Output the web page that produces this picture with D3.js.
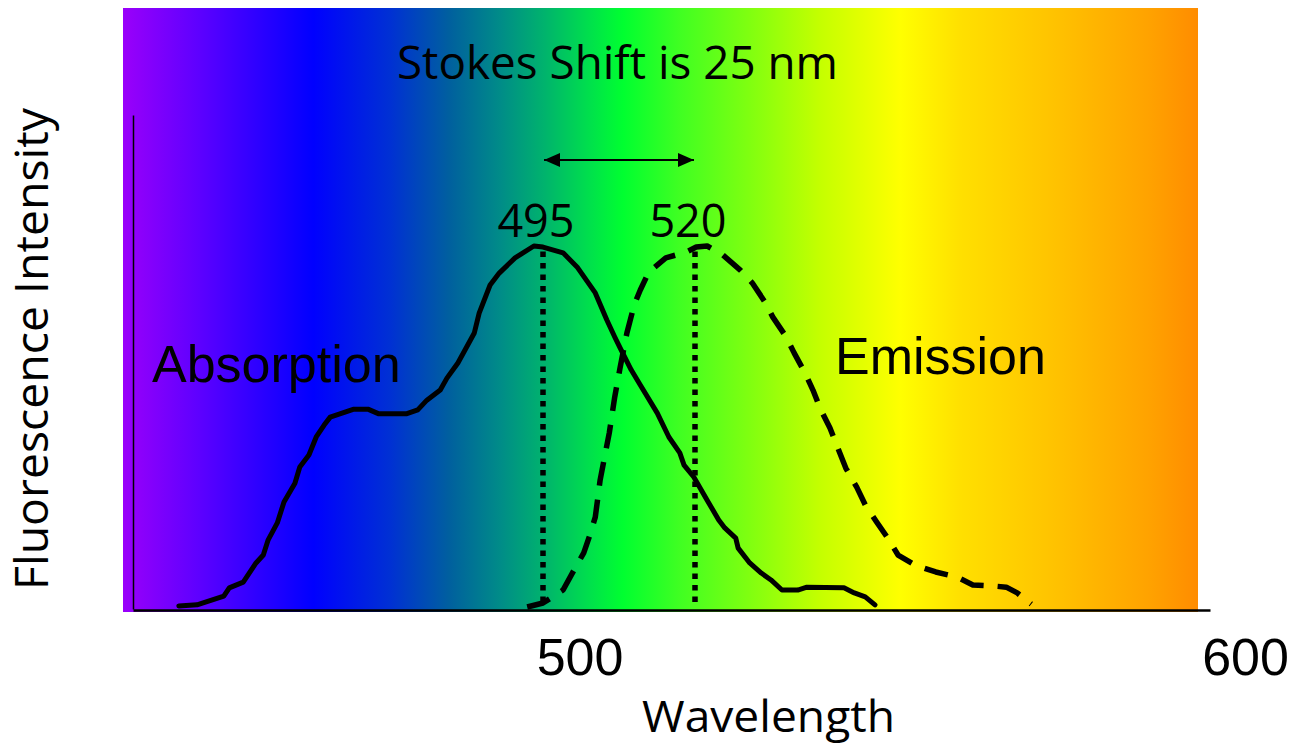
<!DOCTYPE html>
<html><head><meta charset="utf-8">
<script src="https://cdn.jsdelivr.net/npm/d3@7"></script>
<style>body{margin:0;background:#fff;} svg{display:block;}</style>
</head><body>
<svg id="chart" width="1293" height="746"></svg>
<script>
// ---- data ----
const absorptionWavelength = [435.1,438.1,442.5,443.4,445.7,447.8,449.0,449.8,451.3,452.4,454.2,455.0,456.5,457.7,459.0,460.0,463.9,466.2,468.0,472.5,474.4,475.9,478.1,479.2,481.0,483.7,484.5,486.3,487.8,490.4,493.5,495.0,498.3,500.6,503.6,505.5,506.8,507.7,509.5,511.0,513.8,515.7,517.5,518.2,519.8,522.0,523.9,524.9,526.7,527.1,529.0,530.9,532.5,534.3,536.9,538.4,544.5,546.2,548.0,549.6];
const absorptionIntensity = [0.003,0.006,0.030,0.053,0.069,0.122,0.144,0.186,0.233,0.291,0.343,0.388,0.421,0.471,0.504,0.526,0.548,0.548,0.535,0.535,0.546,0.573,0.601,0.634,0.676,0.759,0.814,0.892,0.925,0.967,1.000,0.997,0.981,0.942,0.870,0.795,0.748,0.717,0.657,0.615,0.537,0.471,0.427,0.393,0.360,0.296,0.241,0.219,0.191,0.163,0.122,0.094,0.075,0.047,0.047,0.055,0.053,0.039,0.028,0.006];
const emissionWavelength = [492.4,495.0,498.3,500.1,501.7,502.7,503.6,504.4,505.9,506.8,507.7,508.8,510.0,511.0,512.4,515.2,518.5,520.2,522.0,524.6,527.4,529.4,531.5,532.8,535.0,536.3,538.1,539.4,540.7,542.2,543.5,544.8,546.6,548.0,549.9,551.7,553.4,556.2,559.6,563.1,565.7,569.2,571.2,573.0,575.3];
const emissionIntensity = [0.000,0.011,0.047,0.102,0.150,0.199,0.249,0.352,0.482,0.582,0.665,0.759,0.837,0.878,0.928,0.967,0.983,0.997,1.000,0.975,0.934,0.898,0.845,0.803,0.748,0.704,0.648,0.601,0.546,0.496,0.440,0.385,0.332,0.283,0.235,0.191,0.144,0.116,0.097,0.083,0.061,0.058,0.055,0.039,0.008];
const peakWavelengths = [495, 520];
const peakLabels = ["495", "520"];
const axisTickValues = [500, 600];
const axisTickLabels = ["500", "600"];
const seriesLabels = ["Absorption", "Emission"];
const titleText = "Stokes Shift is 25 nm";
const xTitle = "Wavelength";
const yTitle = "Fluorescence Intensity";

// ---- layout ----
const svg = d3.select("#chart");
const bg = {left:123, right:1198, top:8, bottom:612};
const xS = d3.scaleLinear().domain([495, 520]).range([543, 695]);   // curves
const yS = d3.scaleLinear().domain([0, 1]).range([607, 246]);
const xTick = d3.scaleLinear().domain([500, 600]).range([579.5, 1245]); // axis labels
const xAxisScale = d3.scaleLinear().domain([xTick.invert(133), xTick.invert(1210)]).range([133, 1210]);
const yAxisScale = d3.scaleLinear().domain([0, 1]).range([609, 115]);

const calibri = "'Open Sans', 'Noto Sans', sans-serif";
const arial = "'Liberation Sans', Arial, sans-serif";

// ---- gradient background ----
const defs = svg.append("defs");
const grad = defs.append("linearGradient").attr("id","spec")
  .attr("gradientUnits","userSpaceOnUse")
  .attr("x1",bg.left).attr("x2",bg.right).attr("y1",0).attr("y2",0);
const stops = [
  [0,"#9a00fa"],[0.072,"#5c00ff"],[0.177,"#0000ff"],[0.248,"#0030d4"],
  [0.304,"#00609e"],[0.351,"#008c88"],[0.393,"#00b46c"],[0.434,"#00e04c"],
  [0.465,"#00ff30"],[0.518,"#40ff22"],[0.583,"#80ff10"],[0.648,"#c4ff00"],
  [0.723,"#ffff00"],[0.779,"#ffe000"],[0.862,"#ffc400"],[0.955,"#ffa200"],[1,"#ff8c00"]];
grad.selectAll("stop").data(stops).join("stop")
  .attr("offset",d=>d[0]).attr("stop-color",d=>d[1]);
svg.append("rect").attr("x",bg.left).attr("y",bg.top)
  .attr("width",bg.right-bg.left).attr("height",bg.bottom-bg.top)
  .attr("fill","url(#spec)");

// ---- axes ----
const xAxis = svg.append("g").attr("transform","translate(0,610)")
  .call(d3.axisBottom(xAxisScale).tickValues(axisTickValues)
    .tickFormat((d,i)=>axisTickLabels[i]).tickSize(0).tickSizeOuter(0));
xAxis.select(".domain").attr("stroke","#000").attr("stroke-width",2.5);
xAxis.selectAll(".tick text").attr("y",65).attr("dy",0)
  .attr("font-family",arial).attr("font-size",52).attr("fill","#000");

const yAxis = svg.append("g").attr("transform","translate(133,0)")
  .call(d3.axisLeft(yAxisScale).tickValues([]).tickSizeOuter(0));
yAxis.select(".domain").attr("stroke","#000").attr("stroke-width",1.5);

// ---- curves ----
const absData = absorptionWavelength.map((w,i)=>({w, v:absorptionIntensity[i]}));
const emData = emissionWavelength.map((w,i)=>({w, v:emissionIntensity[i]}));
const line = d3.line().x(d=>xS(d.w)).y(d=>yS(d.v));

svg.append("path").datum(absData).attr("d",line)
  .attr("fill","none").attr("stroke","#000").attr("stroke-width",5)
  .attr("stroke-linejoin","round").attr("stroke-linecap","round");
svg.append("path").datum(emData).attr("d",line)
  .attr("fill","none").attr("stroke","#000").attr("stroke-width",5.5)
  .attr("stroke-dasharray","24,14").attr("stroke-linejoin","round");

// ---- peak markers ----
svg.selectAll(".peak").data(peakWavelengths).join("line").attr("class","peak")
  .attr("x1",d=>xS(d)).attr("x2",d=>xS(d))
  .attr("y1",yS(0.985)).attr("y2",yS(0.01))
  .attr("stroke","#000").attr("stroke-width",5.5).attr("stroke-dasharray","5.5,6");

svg.selectAll(".peaklabel").data(peakWavelengths).join("text").attr("class","peaklabel")
  .attr("x",d=>xS(d)-7).attr("y",237).attr("text-anchor","middle")
  .attr("font-family",calibri).attr("font-size",45).attr("fill","#000")
  .text((d,i)=>peakLabels[i]);

// ---- arrow ----
const mk = (id, path) => defs.append("marker").attr("id",id)
  .attr("markerUnits","userSpaceOnUse").attr("viewBox","0 0 16 14")
  .attr("refX", id==="ah1" ? 0 : 16).attr("refY",7)
  .attr("markerWidth",16).attr("markerHeight",14).attr("orient","auto")
  .append("path").attr("d",path).attr("fill","#000");
mk("ah1","M0,7 L16,0 L16,14 Z");
mk("ah2","M16,7 L0,0 L0,14 Z");
svg.append("line")
  .attr("x1",xS(peakWavelengths[0])+1).attr("x2",xS(peakWavelengths[1])-1)
  .attr("y1",160).attr("y2",160)
  .attr("stroke","#000").attr("stroke-width",2.2)
  .attr("marker-start","url(#ah1)").attr("marker-end","url(#ah2)");

// ---- texts ----
svg.append("text").attr("x",397).attr("y",79)
  .attr("font-family",calibri).attr("font-size",45).attr("fill","#000")
  .attr("textLength",441).attr("lengthAdjust","spacingAndGlyphs")
  .text(titleText);

svg.append("text").attr("x",152).attr("y",382)
  .attr("font-family",arial).attr("font-size",52).attr("fill","#000")
  .text(seriesLabels[0]);
svg.append("text").attr("x",835).attr("y",374)
  .attr("font-family",arial).attr("font-size",52).attr("fill","#000")
  .text(seriesLabels[1]);

svg.append("text").attr("x",768.5).attr("y",732).attr("text-anchor","middle")
  .attr("font-family",calibri).attr("font-size",44).attr("fill","#000")
  .attr("textLength",253).attr("lengthAdjust","spacingAndGlyphs")
  .text(xTitle);

svg.append("text").attr("transform","translate(48,349) rotate(-90)")
  .attr("text-anchor","middle")
  .attr("font-family",calibri).attr("font-size",45).attr("fill","#000")
  .attr("textLength",482).attr("lengthAdjust","spacingAndGlyphs")
  .text(yTitle);
</script>
</body></html>
